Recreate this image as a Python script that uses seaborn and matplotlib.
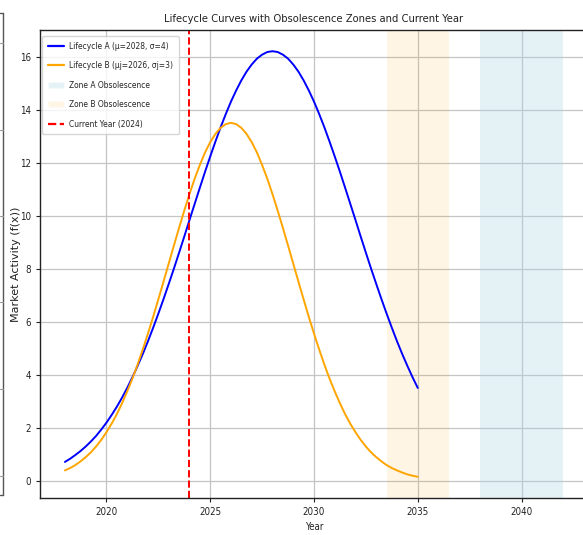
import numpy as np
import pandas as pd
import matplotlib
matplotlib.use("Agg")
import matplotlib.pyplot as plt
import seaborn as sns
from matplotlib.lines import Line2D
from matplotlib.patches import Patch

# ---- data ----
years = [2018 + 0.25 * i for i in range(69)]  # 2018.00 ... 2035.00
lifecycle_a = [0.71, 0.83, 0.97, 1.12, 1.29, 1.48, 1.69, 1.93, 2.19, 2.48,
               2.79, 3.13, 3.50, 3.90, 4.33, 4.78, 5.26, 5.77, 6.30, 6.85,
               7.42, 8.00, 8.60, 9.21, 9.83, 10.44, 11.05, 11.65, 12.23, 12.79,
               13.33, 13.83, 14.30, 14.72, 15.10, 15.43, 15.70, 15.92, 16.07, 16.17,
               16.20,
               16.17, 16.07, 15.92, 15.70, 15.43, 15.10, 14.72, 14.30, 13.83, 13.33,
               12.79, 12.23, 11.65, 11.05, 10.44, 9.83, 9.21, 8.60, 8.00, 7.42,
               6.85, 6.30, 5.77, 5.26, 4.78, 4.33, 3.90, 3.50]
lifecycle_b = [0.39, 0.48, 0.59, 0.73, 0.89, 1.07, 1.29, 1.54, 1.83, 2.15,
               2.51, 2.92, 3.37, 3.85, 4.38, 4.95, 5.55, 6.18, 6.84, 7.51,
               8.19, 8.87, 9.54, 10.19, 10.81, 11.39, 11.91, 12.38, 12.77, 13.08,
               13.31, 13.45, 13.50,
               13.45, 13.31, 13.08, 12.77, 12.38, 11.91, 11.39, 10.81, 10.19, 9.54,
               8.87, 8.19, 7.51, 6.84, 6.18, 5.55, 4.95, 4.38, 3.85, 3.37,
               2.92, 2.51, 2.15, 1.83, 1.54, 1.29, 1.07, 0.89, 0.73, 0.59,
               0.48, 0.39, 0.31, 0.24, 0.19, 0.15]
zone_a = (2038.0, 2042.0)
zone_b = (2033.5, 2036.5)
current_year = 2024
x_ticks = [2020, 2025, 2030, 2035, 2040]
y_ticks = [0, 2, 4, 6, 8, 10, 12, 14, 16]

label_a = "Lifecycle A (\u03bc=2028, \u03c3=4)"
label_b = "Lifecycle B (\u03bcj=2026, \u03c3j=3)"
label_za = "Zone A Obsolescence"
label_zb = "Zone B Obsolescence"
label_cy = "Current Year (2024)"

sns.set_theme(style="ticks")
plt.rcParams["font.family"] = ["DejaVu Sans"]
plt.rcParams["font.stretch"] = "condensed"

df = pd.DataFrame({"Year": years + years,
                   "Value": lifecycle_a + lifecycle_b,
                   "Series": [label_a] * len(years) + [label_b] * len(years)})

W, H = 583, 535
fig = plt.figure(figsize=(W / 100, H / 100), dpi=100)
ax = fig.add_axes([40 / W, (H - 498) / H, 548 / W, (498 - 30) / H])

sns.lineplot(data=df, x="Year", y="Value", hue="Series",
             palette={label_a: "blue", label_b: "orange"},
             linewidth=1.4, ax=ax, legend=False)

ax.axvspan(*zone_a, color="lightblue", alpha=0.33, lw=0)
ax.axvspan(*zone_b, color="orange", alpha=0.1, lw=0)
ax.axvline(current_year, color="red", linestyle="--", linewidth=1.4)

ax.set_xlim(2016.8, 2043.2)
ax.set_ylim(-0.65, 17.0)
ax.set_xticks(x_ticks)
ax.set_yticks(y_ticks)
ax.grid(True, color="#c4c4c4", linewidth=0.9)
ax.tick_params(labelsize=7, length=3, width=0.8, colors="#222222")
for s in ax.spines.values():
    s.set_color("#222222")
    s.set_linewidth(1.0)

ax.set_title("Lifecycle Curves with Obsolescence Zones and Current Year",
             fontsize=8, pad=6, color="#222222")
ax.set_xlabel("Year", fontsize=7, color="#222222")
ax.xaxis.set_label_coords(0.5, -0.051)
ax.set_ylabel("Market Activity (f(x))", fontsize=8, color="#222222",
              fontstretch="normal")
ax.yaxis.set_label_coords(-0.035, 0.5)

handles = [Line2D([], [], color="blue", lw=1.6),
           Line2D([], [], color="orange", lw=1.6),
           Patch(facecolor="lightblue", alpha=0.33),
           Patch(facecolor="orange", alpha=0.1),
           Line2D([], [], color="red", lw=1.6, ls="--")]
ax.legend(handles, [label_a, label_b, label_za, label_zb, label_cy],
          loc="upper left", bbox_to_anchor=(2 / 548, 1 - 6 / 468),
          fontsize=6, frameon=True, handlelength=1.9,
          handletextpad=0.6, borderaxespad=0, borderpad=0.7, labelspacing=1.25)

# partial frame of the neighbouring panel at the far left edge
x0 = 2.5 / W
fig.add_artist(Line2D([x0, x0], [1 - 13 / H, 1 - 495 / H], color="#555555", lw=1.0,
                      transform=fig.transFigure))
fig.add_artist(Line2D([0, x0], [1 - 13 / H, 1 - 13 / H], color="#555555", lw=1.0,
                      transform=fig.transFigure))
fig.add_artist(Line2D([0, x0], [1 - 495 / H, 1 - 495 / H], color="#555555", lw=1.0,
                      transform=fig.transFigure))
for ty in [43, 130, 216, 302, 389, 476]:
    fig.add_artist(Line2D([0, x0], [1 - ty / H, 1 - ty / H], color="#999999", lw=0.8,
                          transform=fig.transFigure))

fig.savefig("out.png", dpi=100)
